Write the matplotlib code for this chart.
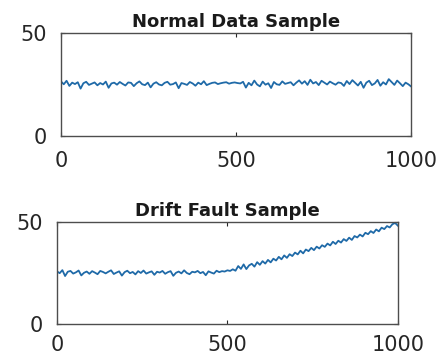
import matplotlib.pyplot as plt
import numpy as np

# Values (sample index 0..1000, about one point every 8 samples)
normal = [26.5, 25.1, 26.8, 24.3, 25.9, 25.2, 26.1, 23.0, 25.6, 26.3, 24.8, 25.4, 26.0, 24.6,
          25.7, 25.0, 26.4, 23.4, 25.5, 25.9, 24.9, 26.2, 25.3, 24.5, 26.0, 25.8, 24.2, 25.6,
          26.5, 25.1, 24.7, 25.9, 23.6, 25.4, 26.1, 25.0, 24.6, 25.8, 26.3, 24.9, 25.2, 26.0,
          23.2, 25.7, 25.3, 24.8, 26.2, 25.5, 24.4, 25.9, 25.1, 26.6, 24.7, 25.3, 25.8, 26.0,
          25.2, 25.6, 25.9, 26.1, 25.4, 25.8, 26.0, 25.7, 25.5, 26.3, 23.5, 25.8, 24.6, 26.9,
          25.0, 24.1, 26.4, 24.9, 25.6, 23.3, 26.2, 25.1, 24.8, 26.5, 25.3, 25.7, 26.1, 24.6,
          25.9, 27.0, 25.4, 26.6, 24.8, 27.3, 25.5, 26.2, 24.7, 26.8, 25.9, 25.0, 26.4, 25.6,
          24.9, 26.0, 25.7, 24.3, 26.7, 25.2, 27.1, 25.8, 24.5, 26.3, 23.4, 25.9, 26.8, 24.7,
          25.5, 27.2, 24.4, 26.1, 25.0, 27.6, 26.2, 24.8, 26.9, 25.6, 24.2, 25.9, 25.1, 24.0]

drift = [25.8, 24.9, 26.4, 23.5, 25.6, 26.0, 24.7, 25.3, 26.2, 23.8, 25.1, 25.7, 24.6, 25.9,
         25.2, 24.4, 26.0, 25.5, 24.8, 25.6, 26.3, 24.5, 25.2, 25.8, 23.7, 25.4, 26.1, 24.9,
         25.5, 24.3, 25.9, 25.0, 26.2, 24.7, 25.3, 25.8, 24.1, 25.6, 25.2, 26.0, 24.6, 25.4,
         25.9, 23.6, 25.1, 25.7, 24.8, 26.3, 25.0, 24.4, 25.6, 25.3, 26.0, 24.9, 25.5, 23.9,
         25.8, 25.2, 24.7, 26.1, 25.4, 25.9, 25.7, 26.3, 26.0, 26.8, 26.1, 28.4, 27.0, 29.2,
         26.9, 28.7, 29.5, 28.1, 30.3, 29.0, 30.8, 29.6, 31.4, 30.2, 32.0, 31.1, 32.9, 31.7,
         33.6, 32.4, 34.2, 33.3, 35.0, 34.1, 35.9, 34.6, 36.5, 35.7, 37.3, 36.2, 37.9, 37.0,
         38.6, 37.8, 39.4, 38.5, 40.3, 39.2, 40.8, 39.9, 41.6, 40.7, 42.3, 41.2, 43.1, 42.4,
         43.8, 42.9, 44.7, 44.0, 45.5, 44.6, 46.3, 45.4, 47.2, 46.5, 48.0, 47.3, 48.9, 49.5, 48.2]

titles = ["Normal Data Sample", "Drift Fault Sample"]
x_ticks = [0, 500, 1000]
y_ticks = [0, 50]

fig = plt.figure(figsize=(4.45, 3.58), dpi=100)

# axes positions
ax1 = fig.add_axes([0.137, 0.620, 0.787, 0.288])
ax2 = fig.add_axes([0.128, 0.095, 0.766, 0.285])

for ax, data, title, xpad, ypad in [(ax1, normal, titles[0], 11, 10),
                                    (ax2, drift, titles[1], 8, 10)]:
    x = np.linspace(0, 1000, len(data))
    ax.plot(x, data, color='#1f6aa8', lw=1.3)
    ax.set_xlim(0, 1000)
    ax.set_ylim(0, 50)
    ax.set_xticks(x_ticks)
    ax.set_yticks(y_ticks)
    ax.tick_params(direction='in', length=3, width=0.8, labelsize=15,
                   top=True, right=True, colors='#262626')
    ax.tick_params(axis='x', pad=xpad)
    ax.tick_params(axis='y', pad=ypad)
    for s in ax.spines.values():
        s.set_color('#4d4d4d')
        s.set_linewidth(1.0)
    ax.set_title(title, fontsize=13, fontweight='bold', pad=4, color='#1a1a1a')

fig.savefig('out.png', dpi=100)
